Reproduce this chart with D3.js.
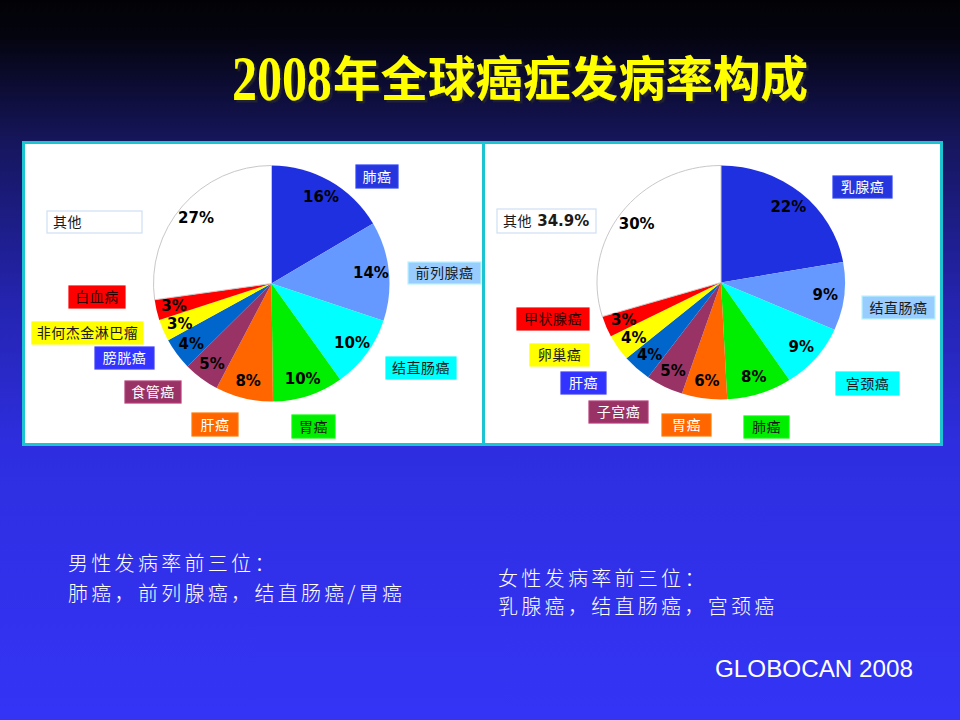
<!DOCTYPE html>
<html><head><meta charset="utf-8">
<script src="https://cdn.jsdelivr.net/npm/d3@7/dist/d3.min.js"></script>
<style>html,body{margin:0;padding:0;background:#000;}svg{display:block;}</style>
</head><body>
<script>
// ---------- data ----------
const maleCategories = ["肺癌","前列腺癌","结直肠癌","胃癌","肝癌","食管癌","膀胱癌","非何杰金淋巴瘤","白血病","其他"];
const maleValues     = [16.5, 13.6, 10.0, 9.7, 7.9, 4.9, 4.4, 3.0, 2.8, 27.2];
const maleLabels     = ["16%","14%","10%","10%","8%","5%","4%","3%","3%","27%"];

const femaleCategories = ["乳腺癌","结直肠癌","宫颈癌","肺癌","胃癌","子宫癌","肝癌","卵巢癌","甲状腺癌","其他"];
const femaleValues     = [22.2, 9.4, 9.1, 8.5, 5.9, 4.9, 3.8, 3.6, 2.9, 29.7];
const femaleLabels     = ["22%","9%","9%","8%","6%","5%","4%","4%","3%","30%"];
const femaleOtherNote  = "34.9%";

const titleYear = "2008";
const titleRest = "年全球癌症发病率构成";
const maleTopTitle = "男性发病率前三位：";
const maleTop = "肺癌，前列腺癌，结直肠癌/胃癌";
const femaleTopTitle = "女性发病率前三位：";
const femaleTop = "乳腺癌，结直肠癌，宫颈癌";
const source = "GLOBOCAN 2008";

// ---------- styles / layout ----------
const sliceColorsM = ["#1f30e0","#6699ff","#00ffff","#00ee00","#ff6600","#993366","#0066cc","#ffff00","#ff0000","#ffffff"];
const boxColorsM   = ["#2536de","#99ccff","#00ffff","#00ee00","#ff6600","#993366","#3333ff","#ffff00","#ff0000","#ffffff"];
const sliceColorsF = ["#1f30e0","#6699ff","#00ffff","#00ee00","#ff6600","#993366","#0066cc","#ffff00","#ff0000","#ffffff"];
const boxColorsF   = ["#2536de","#99ccff","#00ffff","#00ee00","#ff6600","#993366","#3333ff","#ffff00","#ff0000","#ffffff"];
function textColorFor(bg){
  const dark = ["#2536de","#ff6600","#993366","#3333ff"];
  if (dark.includes(bg)) return "#ffffff";
  if (bg === "#ff0000") return "#2a0000";
  return "#1a1a1a";
}
// label boxes [x, y, w, h]
const boxLayoutM = [[356,165,42,23],[408,262,73,22],[386,357,70,22],[292,415,43,23],[192,413,46,23],
                    [125,381,56,22],[95,347,59,22],[32,322,111,22],[69,286,56,22],[47,211,95,22]];
const boxLayoutF = [[833,176,59,22],[862,296,73,23],[836,372,63,23],[744,416,45,22],[662,414,49,22],
                    [589,401,59,22],[561,372,45,22],[530,344,59,22],[517,308,72,22],[497,209,99,24]];

const W = 960, H = 720;
const svg = d3.select("body").append("svg").attr("width", W).attr("height", H);

const defs = svg.append("defs");
const grad = defs.append("linearGradient").attr("id","bg").attr("x1",0).attr("y1",0).attr("x2",0).attr("y2",1);
[[0,"#020206"],[0.05,"#04040f"],[0.2,"#16165e"],[0.42,"#2424b0"],[0.62,"#2e2ee0"],[1,"#3434f6"]]
  .forEach(([o,c]) => grad.append("stop").attr("offset",o).attr("stop-color",c));
const sh = defs.append("filter").attr("id","shadow").attr("x","-5%").attr("y","-20%").attr("width","115%").attr("height","150%");
sh.append("feDropShadow").attr("dx",2.5).attr("dy",2.5).attr("stdDeviation",0.6)
  .attr("flood-color","#202030").attr("flood-opacity",1);
svg.append("rect").attr("width",W).attr("height",H).attr("fill","url(#bg)");

// title
const tg = svg.append("g").attr("filter","url(#shadow)");
tg.append("text").attr("transform",`translate(232,100) scale(0.78,1)`)
  .attr("font-family","'Liberation Serif', serif").attr("font-weight","bold").attr("font-size",64)
  .attr("fill","#ffff00").text(titleYear);
tg.append("text").attr("x",333).attr("y",96)
  .attr("font-family","'Noto Sans CJK SC', sans-serif").attr("font-weight","bold").attr("font-size",47.5)
  .attr("fill","#ffff00").text(titleRest);

// panels
svg.append("rect").attr("x",23.5).attr("y",142.5).attr("width",918).attr("height",302)
  .attr("fill","#ffffff").attr("stroke","#1cc4d2").attr("stroke-width",3);
svg.append("line").attr("x1",483.5).attr("x2",483.5).attr("y1",142).attr("y2",446)
  .attr("stroke","#1cc4d2").attr("stroke-width",3);

function drawPie(cfg){
  const pie = d3.pie().sort(null).value(d => d)(cfg.values);
  const arc = d3.arc().innerRadius(0).outerRadius(cfg.r);
  const lab = d3.arc().innerRadius(cfg.lr).outerRadius(cfg.lr);
  const g = svg.append("g").attr("transform",`translate(${cfg.cx},${cfg.cy}) scale(${cfg.sx},1)`);
  g.selectAll("path").data(pie).join("path")
    .attr("d", arc)
    .attr("fill", (d,i) => cfg.colors[i])
    .attr("stroke", (d,i) => cfg.colors[i] === "#ffffff" ? "#c8c8c8" : "none")
    .attr("stroke-width", 1)
    .attr("vector-effect","non-scaling-stroke");
  svg.append("g").selectAll("text").data(pie).join("text")
    .attr("x", d => cfg.cx + cfg.sx * lab.centroid(d)[0])
    .attr("y", d => cfg.cy + lab.centroid(d)[1])
    .attr("dy","0.36em").attr("text-anchor","middle")
    .attr("font-family","'DejaVu Sans', Verdana, sans-serif").attr("font-weight","bold").attr("font-size",15)
    .attr("fill","#000").text((d,i) => cfg.labels[i]);

  // category boxes
  const bg = svg.append("g");
  cfg.categories.forEach((c,i) => {
    const [x,y,w,h] = cfg.boxes[i];
    const col = cfg.boxColors[i];
    bg.append("rect").attr("x",x).attr("y",y).attr("width",w).attr("height",h)
      .attr("fill",col).attr("stroke", col === "#ffffff" ? "#cfe0f5" : d3.color(col).brighter(0.5))
      .attr("stroke-width", 1.2);
    const isOther = i === cfg.categories.length - 1;
    const t = bg.append("text")
      .attr("x", isOther ? x + 6 : x + w/2).attr("y", y + h/2).attr("dy","0.36em")
      .attr("text-anchor", isOther ? "start" : "middle")
      .attr("font-family","'Noto Sans CJK SC', sans-serif").attr("font-size",14)
      .attr("letter-spacing", 0.5)
      .attr("fill", textColorFor(col));
    t.append("tspan").text(c);
    if (isOther && cfg.otherNote){
      t.append("tspan").attr("font-family","'DejaVu Sans', Verdana, sans-serif").attr("font-weight","bold")
       .attr("font-size",15).attr("letter-spacing",0).text(" " + cfg.otherNote);
    }
  });
}

drawPie({cx:271.5, cy:283.5, r:118, sx:1, lr:100, values:maleValues, labels:maleLabels,
         categories:maleCategories, colors:sliceColorsM, boxColors:boxColorsM, boxes:boxLayoutM});
drawPie({cx:721, cy:282.5, r:117, sx:1.06, lr:99, values:femaleValues, labels:femaleLabels,
         categories:femaleCategories, colors:sliceColorsF, boxColors:boxColorsF, boxes:boxLayoutF,
         otherNote: femaleOtherNote});

// bottom notes
const notes = svg.append("g").attr("fill","#ffffff")
  .attr("font-family","'Noto Sans CJK SC', sans-serif").attr("font-weight",300)
  .attr("font-size",20).attr("letter-spacing",3.3);
notes.append("text").attr("x",68).attr("y",571).text(maleTopTitle);
notes.append("text").attr("x",68).attr("y",601).text(maleTop);
notes.append("text").attr("x",498).attr("y",586).text(femaleTopTitle);
notes.append("text").attr("x",498).attr("y",614).text(femaleTop);

svg.append("text").attr("x",715).attr("y",677).attr("fill","#ffffff")
  .attr("font-family","'Liberation Sans', Arial, sans-serif").attr("font-size",24)
  .attr("textLength",198).attr("lengthAdjust","spacingAndGlyphs").text(source);
</script>
</body></html>
